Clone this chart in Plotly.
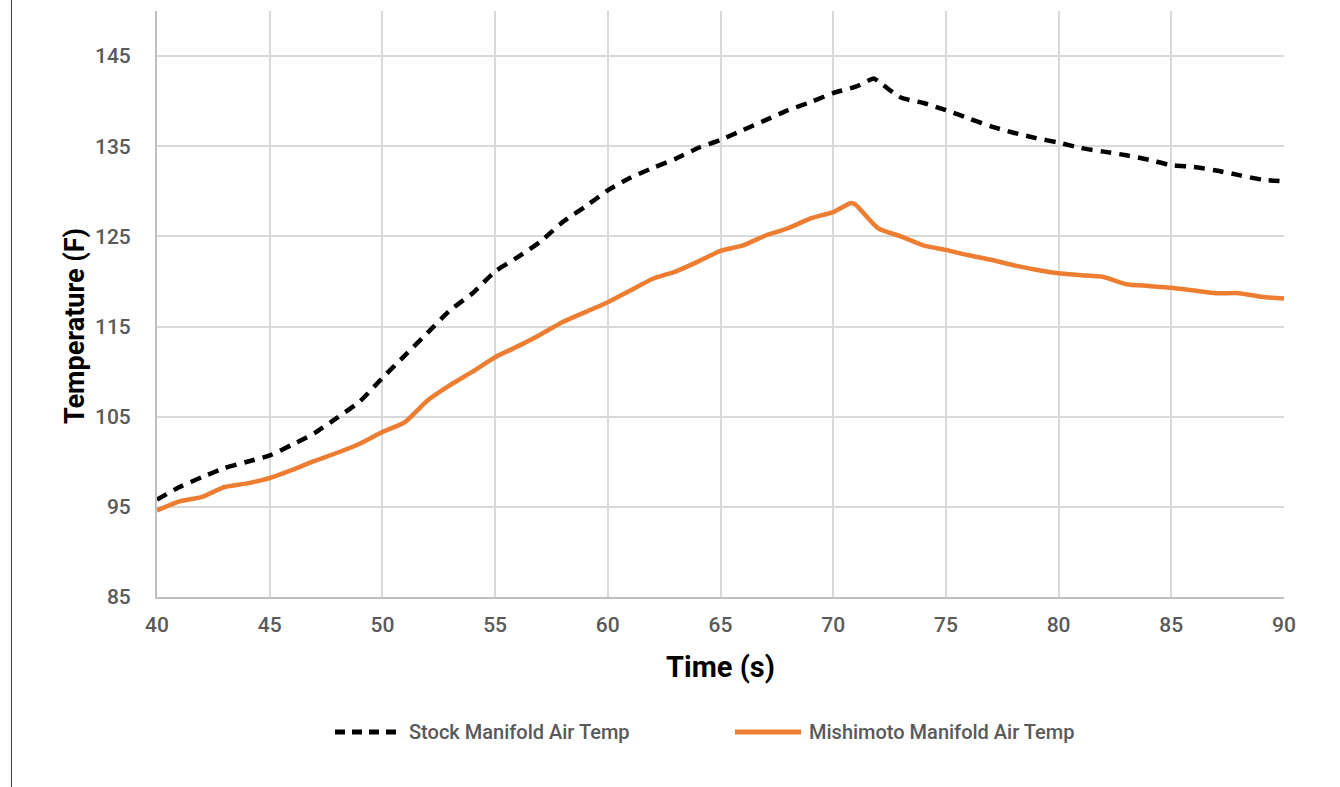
import plotly.graph_objects as go

# ---- data ----
time_stock = [40, 41, 42, 43, 44, 45, 46, 47, 48, 49, 50, 51, 52, 53, 54, 55, 56, 57, 58, 59, 60,
              61, 62, 63, 64, 65, 66, 67, 68, 69, 70, 71, 71.8, 72, 73, 74, 75, 76, 77, 78, 79, 80,
              81, 82, 83, 84, 85, 86, 87, 88, 89, 90]
stock_temp = [95.8, 97.2, 98.3, 99.3, 100.0, 100.7, 101.9, 103.2, 104.9, 106.7, 109.3, 111.8, 114.3,
              116.8, 118.7, 121.1, 122.7, 124.4, 126.6, 128.3, 130.1, 131.5, 132.6, 133.6, 134.8,
              135.7, 136.8, 137.9, 139.0, 139.9, 140.9, 141.6, 142.5, 142.2, 140.4, 139.8, 139.0,
              138.1, 137.2, 136.5, 135.9, 135.4, 134.8, 134.4, 134.0, 133.5, 132.9, 132.7, 132.3,
              131.8, 131.3, 131.1]

time_mishi = [40, 41, 42, 43, 44, 45, 46, 47, 48, 49, 50, 51, 52, 53, 54, 55, 56, 57, 58, 59, 60,
              61, 62, 63, 64, 65, 66, 67, 68, 69, 70, 70.8, 71, 72, 73, 74, 75, 76, 77, 78, 79, 80,
              81, 82, 83, 84, 85, 86, 87, 88, 89, 90]
mishi_temp = [94.6, 95.6, 96.1, 97.2, 97.6, 98.2, 99.1, 100.1, 101.0, 102.0, 103.3, 104.4, 106.8,
              108.5, 110.0, 111.6, 112.8, 114.1, 115.5, 116.6, 117.7, 119.0, 120.3, 121.1, 122.2,
              123.4, 124.0, 125.1, 125.9, 127.0, 127.7, 128.7, 128.5, 125.9, 125.0, 124.0, 123.5,
              122.9, 122.4, 121.8, 121.3, 120.9, 120.7, 120.5, 119.7, 119.5, 119.3, 119.0, 118.7,
              118.7, 118.3, 118.1]

series_names = ["Stock Manifold Air Temp", "Mishimoto Manifold Air Temp"]
x_ticks = [40, 45, 50, 55, 60, 65, 70, 75, 80, 85, 90]
y_ticks = [85, 95, 105, 115, 125, 135, 145]
x_title = "Time (s)"
y_title = "Temperature (F)"

FONT = "Roboto, Liberation Sans, sans-serif"
STOCK_COLOR = "#000000"
MISHI_COLOR = "#ED7D31"
GRID = "#D9D9D9"
TICK_COLOR = "#595959"

fig = go.Figure()
fig.add_trace(go.Scatter(x=time_stock, y=stock_temp, mode="lines", name=series_names[0],
                         line=dict(color=STOCK_COLOR, width=4.5, dash="11px,8px", shape="spline",
                                   smoothing=0.6),
                         showlegend=False))
fig.add_trace(go.Scatter(x=time_mishi, y=mishi_temp, mode="lines", name=series_names[1],
                         line=dict(color=MISHI_COLOR, width=4.5, shape="spline", smoothing=0.6),
                         showlegend=False))

W, H = 1340, 787
L, R, T, B = 157, 56, 11, 190
pw, ph = W - L - R, H - T - B


def px_x(px):
    return (px - L) / pw


def px_y(py):
    return (H - B - py) / ph


shapes = [
    # thin border line at the far left of the image
    dict(type="line", xref="paper", yref="paper", x0=px_x(11.5), x1=px_x(11.5),
         y0=px_y(787), y1=px_y(0), line=dict(color="#3F3F3F", width=1)),
    # legend symbols
    dict(type="line", xref="paper", yref="paper", x0=px_x(335), x1=px_x(402),
         y0=px_y(732), y1=px_y(732), line=dict(color=STOCK_COLOR, width=5, dash="10px,7px")),
    dict(type="line", xref="paper", yref="paper", x0=px_x(735), x1=px_x(801),
         y0=px_y(732), y1=px_y(732), line=dict(color=MISHI_COLOR, width=5)),
]

annotations = [
    dict(xref="paper", yref="paper", x=px_x(407), y=px_y(732), xanchor="left", yanchor="middle",
         text=series_names[0], showarrow=False,
         font=dict(family=FONT, size=20, color=TICK_COLOR, weight=500)),
    dict(xref="paper", yref="paper", x=px_x(807), y=px_y(732), xanchor="left", yanchor="middle",
         text=series_names[1], showarrow=False,
         font=dict(family=FONT, size=20, color=TICK_COLOR, weight=500)),
    dict(xref="paper", yref="paper", x=px_x(75), y=px_y(326), xanchor="center", yanchor="middle",
         text="<b>" + y_title + "</b>", showarrow=False, textangle=-90,
         font=dict(family=FONT, size=27, color="#000000")),
]

fig.update_layout(
    width=W, height=H,
    margin=dict(l=L, r=R, t=T, b=B),
    paper_bgcolor="white", plot_bgcolor="white",
    font=dict(family=FONT, color=TICK_COLOR),
    shapes=shapes,
    annotations=annotations,
    showlegend=False,
)

fig.update_xaxes(
    range=[40, 90], tickmode="array", tickvals=x_ticks, ticktext=[str(v) for v in x_ticks],
    showgrid=True, gridcolor=GRID, gridwidth=2,
    showline=True, linecolor="#BFBFBF", linewidth=2, zeroline=False,
    ticks="", ticklabelstandoff=8,
    tickfont=dict(family=FONT, size=21, color=TICK_COLOR, weight=500),
    title=dict(text="<b>" + x_title + "</b>", standoff=20,
               font=dict(family=FONT, size=29, color="#000000")),
)
fig.update_yaxes(
    range=[85, 150], tickmode="array", tickvals=y_ticks, ticktext=[str(v) for v in y_ticks],
    showgrid=True, gridcolor=GRID, gridwidth=2,
    showline=True, linecolor="#BFBFBF", linewidth=2, zeroline=False,
    ticks="", ticklabelstandoff=20,
    tickfont=dict(family=FONT, size=21, color=TICK_COLOR, weight=500),
)

fig.write_html("out.html")
